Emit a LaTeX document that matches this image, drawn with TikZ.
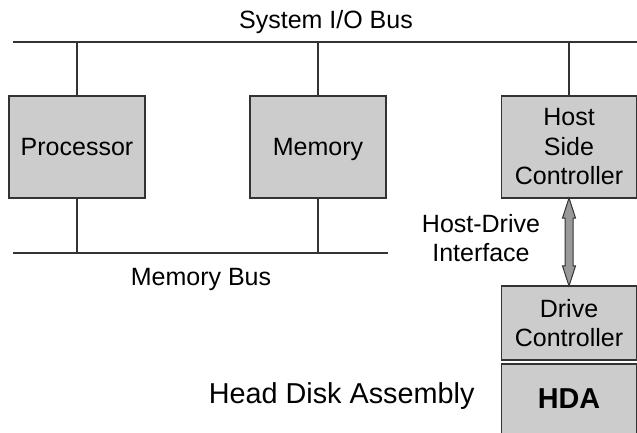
\documentclass[tikz,border=0pt]{standalone}
\usepackage{fontspec}
\setmainfont{Liberation Sans}
\usetikzlibrary{shapes.arrows}

\definecolor{edgegray}{HTML}{333333}
\definecolor{boxgray}{HTML}{CCCCCC}
\definecolor{pipegray}{HTML}{999999}
\newcommand{\lblfont}{\fontsize{25}{29.5}\selectfont}
\newcommand{\hdafont}{\fontsize{28.8}{30}\selectfont\bfseries}

\tikzset{
  bus/.style={draw=edgegray, line width=1.5pt},
  unit/.style={draw=edgegray, line width=1.5pt, fill=boxgray, minimum width=136pt,
    minimum height=102pt, align=center, inner sep=0pt, font=\lblfont},
  pipe/.style={double arrow, draw=edgegray, line width=1pt, fill=pipegray, inner sep=3.5pt,
    minimum width=13pt, minimum height=88pt, double arrow head extend=2.5pt,
    double arrow tip angle=36},
  buslabel/.style={font=\lblfont, anchor=base}
}

\begin{document}
\begin{tikzpicture}[x=1pt,y=-1pt]
\useasboundingbox (0,0) rectangle (637,433);
\clip (0,0) rectangle (637,433);
  % the two buses
  \coordinate (iol) at (13,42);
  \coordinate (ior) at (637,42);
  \coordinate (mbl) at (13,253);
  \coordinate (mbr) at (388,253);
  \draw[bus] (iol) -- (ior);
  \draw[bus] (mbl) -- (mbr);
  \node[buslabel] (iolbl) at (326,29) {System I/O Bus};
  \node[buslabel] (mblbl) at (201,285) {Memory Bus};

  % boxes
  \node[unit, text depth=0pt] (proc) at (77,147) {Processor};
  \node[unit, text depth=0pt] (mem) at (318,147) {Memory};
  \node[unit, minimum width=135pt] (host) at (569,147) {Host\\Side\\Controller};
  \node[unit, minimum width=135pt, minimum height=74pt] (drive) at (569,323) {Drive\\Controller};
  \node[unit, minimum width=135pt, minimum height=70pt, font=\hdafont] (hda) at (569,399) {HDA};

  \foreach \n in {proc,mem,host} % up to the I/O bus
  \draw[bus] (\n.north) -- (\n.north |- iol);
  \foreach \n in {proc,mem} % down to the memory bus
  \draw[bus] (\n.south) -- (\n.south |- mbl);

  \path (host.south) -- (drive.north) node[midway, sloped, pipe] (hdi) {};
  \node[font=\lblfont, align=center] (hdilbl) at (481,238) {Host-Drive\\Interface};
  \node[font=\fontsize{28.8}{30}\selectfont, anchor=base east] (hdalbl) at (478,403) {Head Disk Assembly};
\end{tikzpicture}
\end{document}
